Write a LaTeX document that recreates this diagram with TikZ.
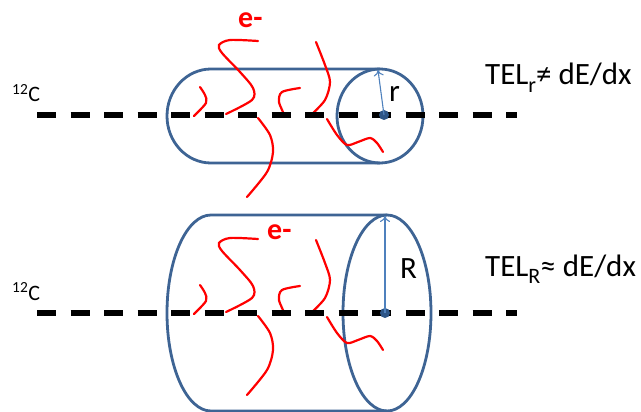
\documentclass[tikz,border=0pt]{standalone}
\usepackage{fontspec}
\setmainfont{Carlito}
\usetikzlibrary{arrows.meta}
\definecolor{canblue}{RGB}{62,100,148}
\definecolor{radblue}{RGB}{79,129,189}
\definecolor{dotblue}{RGB}{45,85,135}
\newcommand\lowsub[1]{\raisebox{-7pt}{\fontsize{22}{24}\selectfont #1}}
\tikzset{
  can/.style={draw=canblue, line width=2.8pt},
  track/.style={draw=red, line width=2.2pt, line cap=round},
  beam/.style={draw=black, line width=6.5pt, dash pattern=on 19pt off 14.5pt},
  core/.style={circle, fill=dotblue, inner sep=0pt, minimum size=10pt},
  radius line/.style={draw=radblue, line width=1.1pt, -{To[length=6pt,width=10pt]}},
  big/.style={font=\fontsize{31}{36}\selectfont, inner sep=0pt, anchor=base west},
  ion/.style={font=\fontsize{22}{26}\selectfont, inner sep=0pt, anchor=base west},
  electron/.style={font=\fontsize{30}{34}\selectfont\bfseries, text=red, inner sep=0pt, anchor=base west}
}
\begin{document}
\begin{tikzpicture}[x=1pt,y=-1pt]
    \useasboundingbox (0,0) rectangle (641,412);

    \draw[can] (380,69) -- (211,69) arc[start angle=270,end angle=90,x radius=44,y radius=47] -- (380,163);
    \draw[can] (380,116) ellipse[x radius=43,y radius=47];
    \draw[can] (387,215) -- (211,215) arc[start angle=270,end angle=90,x radius=44,y radius=98] -- (387,411);
    \draw[can] (387,313) ellipse[x radius=44,y radius=98];

    \foreach \dy in {0,-198} {
    \begin{scope}[yshift=\dy pt]
    \draw[track] plot[smooth] coordinates {(200,87) (205,95) (206,103) (194,116)};
    \draw[track] plot[smooth] coordinates {(258,41) (230,40) (219,45) (222,53) (240,72) (253,88) (252,100) (226,114)};
    \draw[track] plot[smooth] coordinates {(258,118) (270,135) (273,152) (267,172) (247,197)};
    \draw[track] plot[smooth] coordinates {(300,88) (282,92) (279,102) (285,116)};
    \draw[track] plot[smooth] coordinates {(316,42) (325,65) (330,82) (325,100) (311,115)};
    \draw[track] plot[smooth] coordinates {(327,119) (337,135) (347,145) (358,142) (370,138) (377,143) (383,152)};
    \end{scope}
    }

    \coordinate (beamA1) at (37,115);  \coordinate (beamB1) at (517,115);
    \coordinate (beamA2) at (37,313);  \coordinate (beamB2) at (517,313);
    \draw[beam] (beamA1) -- (beamB1);
    \draw[beam] (beamA2) -- (beamB2);

    \node[core] (axis1) at (384,115) {};
    \node[core] (axis2) at (385,313) {};
    \coordinate (rim1) at (378,70);
    \coordinate (rim2) at (385,216);
    \draw[radius line] (axis1.center) -- (rim1);
    \draw[radius line] (axis2.center) -- (rim2);

    \node[big] (small r) at (389,102) {r};
    \node[big] (big R) at (400,278) {R};
    \node[ion] (ion1) at (12,102) {\textsuperscript{12}C};
    \node[ion] (ion2) at (12,300) {\textsuperscript{12}C};
    \node[big] (tel1) at (485,85) {TEL\lowsub{r}≠ dE/dx};
    \node[big] (tel2) at (485,276) {TEL\lowsub{R}≈ dE/dx};
    \node[electron] (e1) at (238,28) {e-};
    \node[electron] (e2) at (267,240) {e-};
\end{tikzpicture}
\end{document}
